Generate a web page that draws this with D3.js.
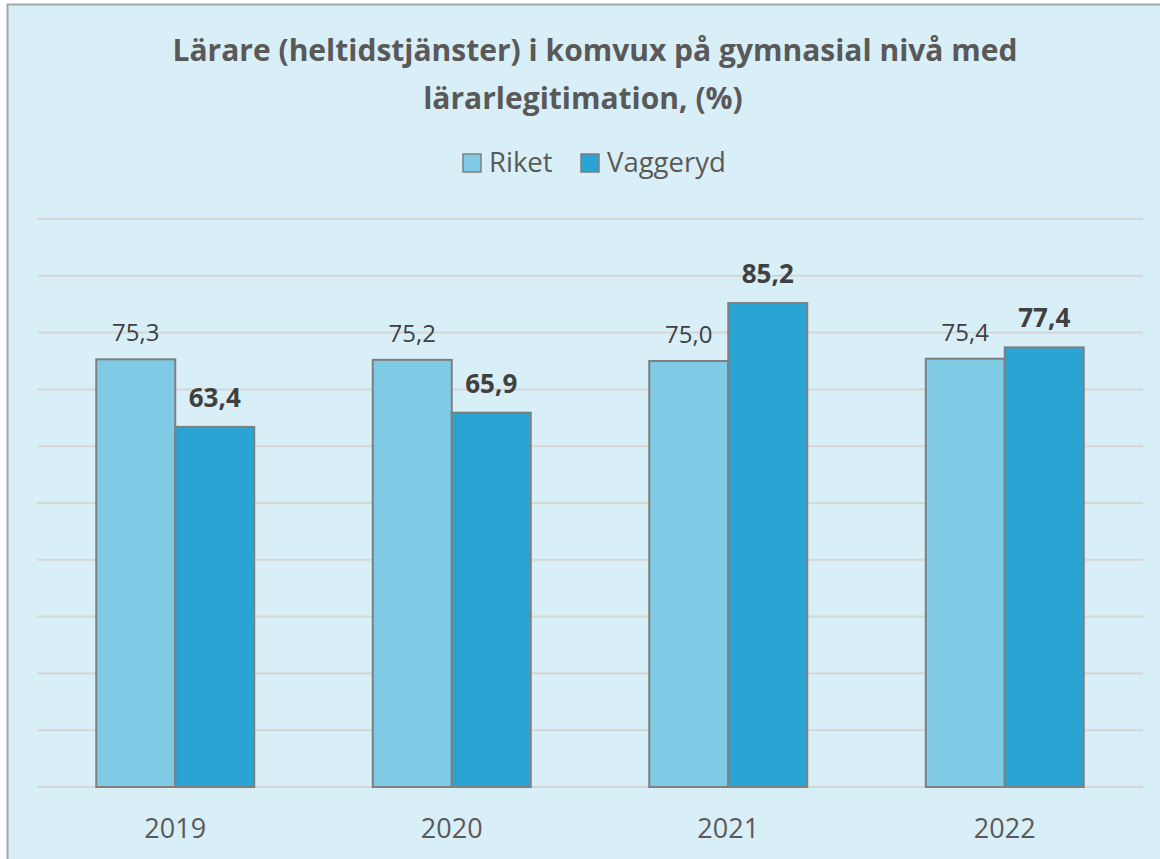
<!DOCTYPE html>
<html>
<head>
<meta charset="utf-8">
<script src="https://cdn.jsdelivr.net/npm/d3@7"></script>
<style>
  body { margin: 0; background: #fff; }
  text { font-family: "Open Sans", sans-serif; }
</style>
</head>
<body>
<script>
  var width = 1160;
  var height = 859;

  // data
  var years = ['2019', '2020', '2021', '2022'];
  var series = ['Riket', 'Vaggeryd'];
  var riket = [75.3, 75.2, 75.0, 75.4];
  var vaggeryd = [63.4, 65.9, 85.2, 77.4];
  var yTicks = [0, 10, 20, 30, 40, 50, 60, 70, 80, 90, 100];
  var colors = ['#7fcbe5', '#2aa5d3'];

  var rows = years.map(function(y, i) {
    return { year: y, values: [riket[i], vaggeryd[i]] };
  });

  var svg = d3.select('body').append('svg')
    .attr('width', width)
    .attr('height', height);

  // background + frame
  svg.append('rect')
    .attr('x', 7.5).attr('y', 4.5)
    .attr('width', width).attr('height', height)
    .attr('fill', '#d9eff8')
    .attr('stroke', '#a6a6a6')
    .attr('stroke-width', 2);

  var plot = { left: 37, right: 1143, top: 219, bottom: 787 };

  // scales
  var xScale = d3.scaleBand()
    .domain(years)
    .range([plot.left, plot.right]);
  var xInner = d3.scaleBand()
    .domain(series)
    .range([0, 158]);
  var yScale = d3.scaleLinear()
    .domain([0, 100])
    .range([plot.bottom, plot.top]);

  // gridlines
  svg.append('g').selectAll('line')
    .data(yTicks)
    .enter().append('line')
    .attr('x1', plot.left).attr('x2', plot.right)
    .attr('y1', d => yScale(d)).attr('y2', d => yScale(d))
    .attr('stroke', '#d6d6d6')
    .attr('stroke-width', 2);

  // bars
  var groups = svg.append('g').selectAll('g')
    .data(rows)
    .enter().append('g')
    .attr('transform', d => 'translate(' + (xScale(d.year) + xScale.bandwidth() / 2 - 79) + ',0)');

  groups.selectAll('rect')
    .data(d => d.values)
    .enter().append('rect')
    .attr('x', (d, i) => xInner(series[i]))
    .attr('width', xInner.bandwidth())
    .attr('y', d => yScale(d))
    .attr('height', d => yScale(0) - yScale(d))
    .attr('fill', (d, i) => colors[i])
    .attr('stroke', '#7f7f7f')
    .attr('stroke-width', 2);

  // value labels
  groups.selectAll('text')
    .data(d => d.values)
    .enter().append('text')
    .attr('x', (d, i) => xInner(series[i]) + xInner.bandwidth() / 2)
    .attr('y', (d, i) => yScale(d) - (i ? 20 : 18))
    .attr('text-anchor', 'middle')
    .attr('font-size', (d, i) => i ? 26 : 24)
    .attr('font-weight', (d, i) => i ? 'bold' : 'normal')
    .attr('fill', '#404040')
    .text(d => d.toFixed(1).replace('.', ','));

  // x axis labels
  svg.append('g').selectAll('text')
    .data(years)
    .enter().append('text')
    .attr('x', d => xScale(d) + xScale.bandwidth() / 2)
    .attr('y', 838)
    .attr('text-anchor', 'middle')
    .attr('font-size', 27)
    .attr('fill', '#595959')
    .text(d => d);

  // title
  var title = svg.append('text')
    .attr('text-anchor', 'middle')
    .attr('font-size', 30)
    .attr('font-weight', 'bold')
    .attr('fill', '#595959');
  title.append('tspan').attr('x', 595).attr('y', 61)
    .text('Lärare (heltidstjänster) i komvux på gymnasial nivå med');
  title.append('tspan').attr('x', 583).attr('y', 109)
    .text('lärarlegitimation, (%)');

  // legend
  var legendX = [463, 581];
  var legend = svg.append('g').selectAll('g')
    .data(series)
    .enter().append('g')
    .attr('transform', (d, i) => 'translate(' + legendX[i] + ',154)');
  legend.append('rect')
    .attr('width', 18).attr('height', 18)
    .attr('fill', (d, i) => colors[i])
    .attr('stroke', '#7f7f7f')
    .attr('stroke-width', 1.5);
  legend.append('text')
    .attr('x', 26).attr('y', 18)
    .attr('font-size', 27.5)
    .attr('fill', '#595959')
    .text(d => d);
</script>
</body>
</html>
